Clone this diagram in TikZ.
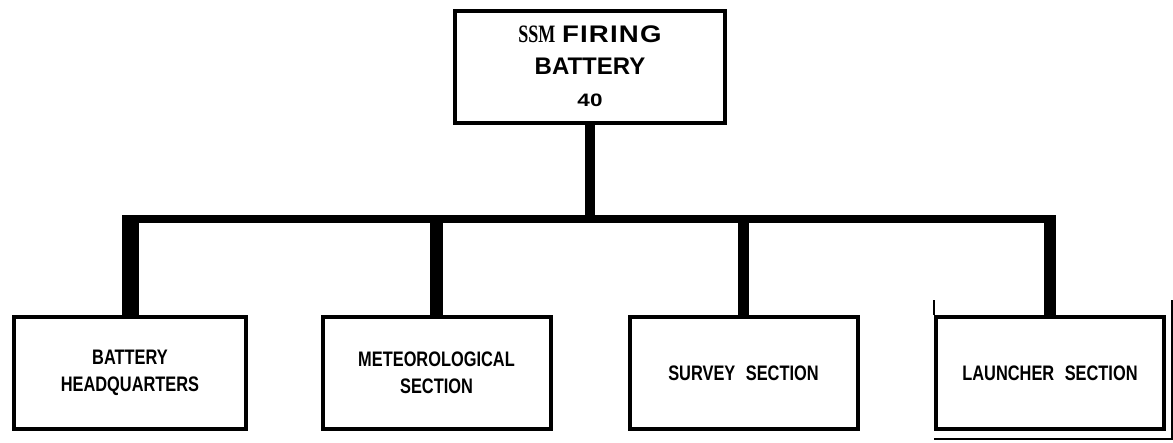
\documentclass[tikz,border=0pt]{standalone}
\usepackage{fontspec}
\setmainfont{Liberation Sans}
\newfontfamily\ssmfont[FakeStretch=0.72]{Liberation Serif}
\newfontfamily\sectfont[FakeStretch=0.78]{Liberation Sans}
\newfontfamily\widefont[FakeStretch=1.15, LetterSpace=5]{Liberation Sans}
\newfontfamily\numfont[FakeStretch=1.25]{Liberation Sans}
\usetikzlibrary{calc}

\begin{document}
\begin{tikzpicture}[x=1pt, y=-1pt,
  block/.style={draw, line width=4pt, minimum width=228pt, minimum height=112pt, inner sep=0pt, align=center, font=\sectfont\bfseries\fontsize{21}{27}\selectfont},
  headblock/.style={block, minimum width=270pt, font=\bfseries\fontsize{24}{32}\selectfont},
  link/.style={line width=#1},
  bar/.style={line width=8pt, line cap=rect}
]
\useasboundingbox (0,0) rectangle (1173,442);

\node[headblock] (ssm) at (590,66.5) {{\ssmfont\fontsize{25}{32}\selectfont SSM} {\widefont FIRING}\\BATTERY\\{\numfont\fontsize{18}{18}\selectfont 40}};

\node[block, minimum width=232pt] (hq) at (130,373) {BATTERY\\HEADQUARTERS};
\node[block] (met) at (436.5,373) {METEOROLOGICAL\\SECTION};
\node[block] (svy) at (743.5,373) {SURVEY\enspace SECTION};
\node[block] (lnch) at (1050,373) {LAUNCHER\enspace SECTION};

\coordinate (bus) at (590,219);
\draw[link=10pt] (ssm.south) -- (bus);
\draw[bar, shorten <=-4pt] (hq.north |- bus) -- (lnch.north |- bus);
\draw[link=17pt, shorten >=-4pt] (hq.north) -- (hq.north |- bus);
\draw[link=13pt] (met.north) -- (met.north |- bus);
\draw[link=11pt] (svy.north) -- (svy.north |- bus);
\draw[link=12pt, shorten >=-4pt] (lnch.north) -- (lnch.north |- bus);

% second outline on the launcher box
\draw[line width=1.5pt] (lnch.north west) -- ++(0,-15);
\draw[line width=2pt] ($(lnch.south west)+(0,8)$) -- ($(lnch.south east)+(6,8)$) -- ($(lnch.north east)+(6,-15)$);
\end{tikzpicture}
\end{document}
